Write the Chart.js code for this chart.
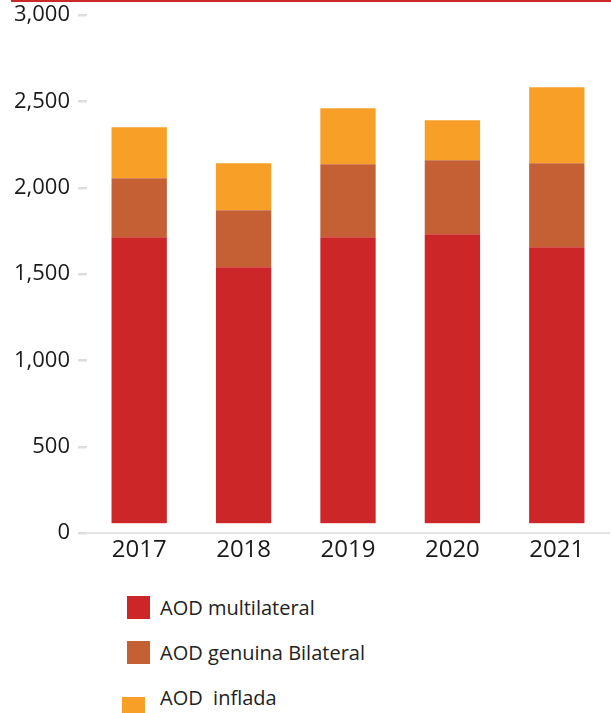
<!DOCTYPE html>
<html>
<head>
<meta charset="utf-8">
<script src="https://cdn.jsdelivr.net/npm/chart.js@4"></script>
<style>
	body { margin: 0; background: #fff; font-family: "Open Sans", sans-serif; }
	#wrap { position: relative; width: 611px; height: 713px; overflow: hidden; }
	#topline { position: absolute; left: 11px; right: 0; top: 0; height: 2px; background: #cc2729; }
	#chart-box { position: absolute; left: 0; top: -6px; width: 611px; height: 586px; }
	.lg-item { position: absolute; left: 160px; font-size: 20px; line-height: 24px; color: #222; white-space: pre; }
	.lg-box { position: absolute; left: -33px; top: 0; width: 23px; height: 23px; }
</style>
</head>
<body>
<div id="wrap">
	<div id="topline"></div>
	<div id="chart-box"><canvas id="chart-aod"></canvas></div>
	<div id="legend"></div>
</div>
<script>
const years = ['2017', '2018', '2019', '2020', '2021'];
const multilateral = [1714, 1540, 1714, 1732, 1656];
const bilateral = [342, 331, 423, 428, 487];
const inflada = [295, 272, 324, 232, 440];
const yTicks = [0, 500, 1000, 1500, 2000, 2500, 3000];

const seriesNames = ['AOD multilateral', 'AOD genuina Bilateral', 'AOD  inflada'];
const seriesColors = ['#cc2628', '#c56035', '#f89f28'];

// small white gap between bars and the axis line, like the original
const baseGap = {
	id: 'baseGap',
	afterDatasetsDraw(chart){
		const a = chart.chartArea;
		chart.ctx.save();
		chart.ctx.fillStyle = '#fff';
		chart.ctx.fillRect(a.left, a.bottom - 10, a.right - a.left, 9);
		chart.ctx.restore();
	}
};

const ctx = document.getElementById('chart-aod').getContext('2d');
new Chart(ctx, {
	type: 'bar',
	data: {
		labels: years,
		datasets: [multilateral, bilateral, inflada].map((d, i) => ({
			label: seriesNames[i],
			data: d,
			backgroundColor: seriesColors[i],
			barPercentage: 0.53,
			categoryPercentage: 1
		}))
	},
	options: {
		responsive: true,
		maintainAspectRatio: false,
		animation: false,
		layout: { padding: { top: 8, right: 2, bottom: 12, left: 0 } },
		scales: {
			x: {
				stacked: true,
				grid: { display: true, drawOnChartArea: false, drawTicks: false },
				border: { display: true, color: '#e2e2e2', width: 2 },
				ticks: { color: '#1a1a1a', padding: 3, font: { family: 'Open Sans', size: 24 } }
			},
			y: {
				stacked: true,
				min: 0,
				max: 3000,
				afterBuildTicks: (scale) => { scale.ticks = yTicks.map(v => ({ value: v })); },
				afterFit: (scale) => { scale.width = 87; },
				grid: { drawOnChartArea: false, tickLength: 9, color: '#dddddd', lineWidth: 2.5 },
				border: { display: false },
				ticks: {
					color: '#1a1a1a',
					padding: 8,
					font: { family: 'Open Sans', size: 22 },
					callback: (v) => v.toLocaleString('en-US')
				}
			}
		},
		plugins: {
			legend: { display: false },
			tooltip: { enabled: false }
		}
	},
	plugins: [baseGap]
});

// legend, stacked vertically under the chart
const legendEl = document.getElementById('legend');
const legendTops = [596, 641, 686];
seriesNames.forEach((name, i) => {
	const item = document.createElement('div');
	item.className = 'lg-item';
	item.style.top = legendTops[i] + 'px';
	item.textContent = name;
	const box = document.createElement('span');
	box.className = 'lg-box';
	box.style.background = seriesColors[i];
	if(i === 2){ box.style.left = '-38px'; box.style.top = '11px'; }
	item.appendChild(box);
	legendEl.appendChild(item);
});
</script>
</body>
</html>
